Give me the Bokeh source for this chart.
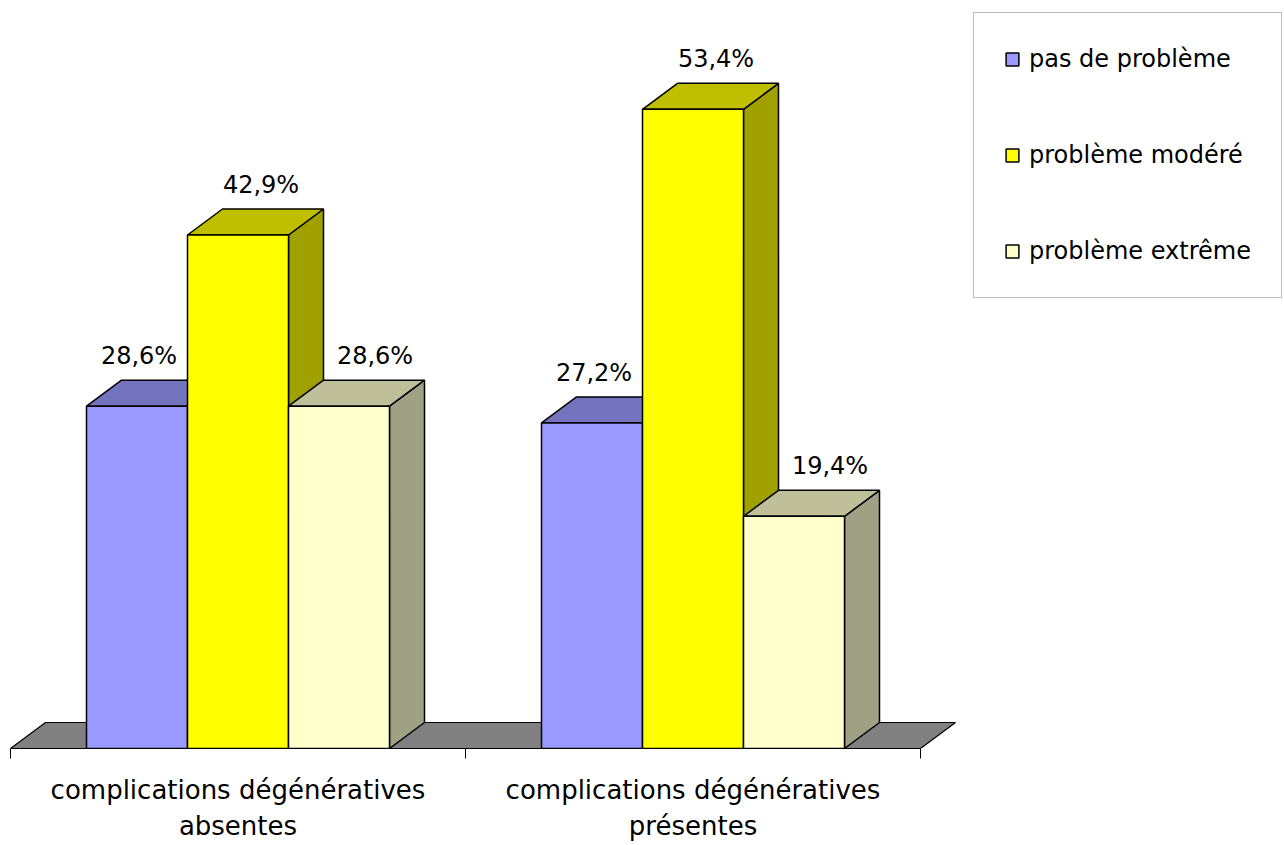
from bokeh.plotting import figure
from bokeh.models import Range1d, FixedTicker, Legend, LegendItem, ColumnDataSource
from bokeh.embed import file_html
from bokeh.resources import INLINE
from bokeh.core.properties import value

# ---------------- data ----------------
categories = ["complications dégénératives\nabsentes",
              "complications dégénératives\nprésentes"]
series_names = ["pas de problème", "problème modéré", "problème extrême"]
pas_de_probleme = [28.6, 27.2]
probleme_modere = [42.9, 53.4]
probleme_extreme = [28.6, 19.4]
series_values = [pas_de_probleme, probleme_modere, probleme_extreme]

# ---------------- styles ----------------
front_colors = ["#9999FF", "#FFFF00", "#FFFFCC"]
top_colors = ["#7373BF", "#BFBF00", "#BFBF99"]
side_colors = ["#5C5C99", "#A0A000", "#A0A084"]
label_dx_px = [2, 23, 36]

FONT = "DejaVu Sans"
W, H = 1284, 845
LEFT = 10
FRAME_W, FRAME_H = W - LEFT, 748
PX_X = 455.0          # pixels per category slot
PX_Y = 11.97          # pixels per percent
DX = 35 / PX_X        # depth offset (x units)
DY = 26 / PX_Y        # depth offset (y units)
BAR_W = 101 / PX_X

p = figure(width=W, height=H,
           x_range=Range1d(0, FRAME_W / PX_X), y_range=Range1d(0, FRAME_H / PX_Y),
           toolbar_location=None, output_backend="svg",
           y_axis_location=None, x_axis_location="below",
           min_border_left=LEFT, min_border_right=0, min_border_top=0,
           min_border_bottom=H - FRAME_H)
p.outline_line_color = None
p.xgrid.visible = False
p.ygrid.visible = False
p.background_fill_color = "white"
p.border_fill_color = "white"

n = len(categories)
# floor
p.patch([0, n, n + DX, DX], [0, 0, DY, DY], fill_color="#808080",
        line_color="black", line_width=1.2)

legend_items = []
for s, vals in enumerate(series_values):
    lefts = [g + 0.5 + (s - 1) * BAR_W - BAR_W / 2 for g in range(n)]
    rights = [l + BAR_W for l in lefts]
    side_xs = [[r, r + DX, r + DX, r] for r in rights]
    side_ys = [[0, DY, v + DY, v] for v in vals]
    top_xs = [[l, r, r + DX, l + DX] for l, r in zip(lefts, rights)]
    top_ys = [[v, v, v + DY, v + DY] for v in vals]
    p.patches(side_xs, side_ys, fill_color=side_colors[s], line_color="black", line_width=1.5)
    p.patches(top_xs, top_ys, fill_color=top_colors[s], line_color="black", line_width=1.5)
    src = ColumnDataSource(dict(left=lefts, right=rights, top=vals,
                                cx=[(l + r) / 2 for l, r in zip(lefts, rights)],
                                lab=[f"{v:.1f}%".replace(".", ",") for v in vals]))
    fr = p.quad(left="left", right="right", bottom=0, top="top", source=src,
                fill_color=front_colors[s], line_color="black", line_width=1.5)
    legend_items.append(LegendItem(label=series_names[s], renderers=[fr]))
    p.text(x="cx", y="top", text="lab", source=src, x_offset=label_dx_px[s], y_offset=-50,
           text_align="center", text_baseline="alphabetic",
           text_font=value(FONT), text_font_size="24px", text_color="black")

# axis
ax = p.xaxis[0]
ax.ticker = FixedTicker(ticks=[g + 0.5 for g in range(n)], minor_ticks=list(range(n + 1)))
ax.major_label_overrides = {g + 0.5: categories[g] for g in range(n)}
ax.bounds = (0, n)
ax.axis_line_color = "black"
ax.axis_line_width = 1
ax.major_tick_out = 0
ax.major_tick_in = 0
ax.minor_tick_out = 10
ax.minor_tick_in = 0
ax.minor_tick_line_color = "black"
ax.major_label_standoff = 16
ax.major_label_text_font = FONT
ax.major_label_text_font_size = "26px"
ax.major_label_text_color = "black"

legend = Legend(items=legend_items, location=(963, 450),
                border_line_color="#808080", border_line_width=1,
                background_fill_color="white", background_fill_alpha=1,
                padding=30, spacing=64, glyph_width=16, glyph_height=16,
                label_height=32,
                label_standoff=9, label_text_font=FONT, label_text_font_size="24px",
                label_text_color="black", margin=0)
p.add_layout(legend)

open("out.html", "w").write(file_html(p, INLINE))
